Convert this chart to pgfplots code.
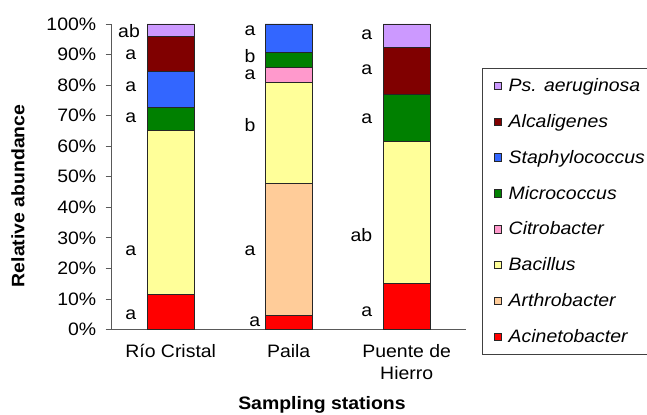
\documentclass[border=0pt]{standalone}
\usepackage{pgfplots}
\pgfplotsset{compat=1.18}
\usepackage{fontspec}
\setmainfont{Liberation Sans}[FakeStretch=1.08]
\newcommand\fs{\fontsize{18bp}{22bp}\selectfont}
\definecolor{cPs}{HTML}{CC99FF}
\definecolor{cAl}{HTML}{800000}
\definecolor{cSt}{HTML}{3366FF}
\definecolor{cMi}{HTML}{008000}
\definecolor{cCi}{HTML}{FF99CC}
\definecolor{cBa}{HTML}{FFFF99}
\definecolor{cAr}{HTML}{FFCC99}
\definecolor{cAc}{HTML}{FF0000}
\begin{document}
\begin{tikzpicture}
\useasboundingbox (-111.7bp,-85.5bp) rectangle (535.3bp,329.5bp);
\begin{axis}[
  scale only axis, width=354bp, height=305.5bp,
  ybar stacked, bar width=0.4,
  xmin=-0.5, xmax=2.5, ymin=0, ymax=100,
  axis lines*=left,
  axis line style={draw=black!65, line width=0.8bp},
  tick align=outside,
  xtick={0,1,2},
  xticklabels={Río Cristal, Paila, {Puente de\\Hierro}},
  xtick style={draw=none},
  major tick length=6bp,
  ytick={0,10,...,100},
  yticklabel={\pgfmathprintnumber{\tick}\%},
  /pgf/number format/assume math mode=true,
  ytick style={draw=black!65, line width=0.8bp},
  tick label style={font=\fs},
  xticklabel style={align=center, yshift=-5bp},
  yticklabel style={xshift=-6bp},
  label style={font=\fs\bfseries},
  xlabel={Sampling stations},
  ylabel={Relative abundance},
  xlabel style={at={(axis description cs:0.594,-0.247)}, anchor=center},
  ylabel style={at={(axis description cs:-0.2647,0.4377)}, anchor=center},
  every axis plot/.append style={draw=black!85, line width=0.7bp},
  area legend,
  legend image code/.code={\draw[#1, line width=0.6bp] (0bp,-3.8bp) rectangle (7.5bp,3.8bp);},
  reverse legend,
  legend cell align=left,
  legend style={at={(axis description cs:1.047,0.855)}, anchor=north west,
    draw=black!75, line width=0.6bp, font=\fs\itshape,
    inner xsep=11bp, inner ysep=8bp, row sep=17.3bp,
    /tikz/every odd column/.append style={column sep=5bp}},
]
\addplot[fill=cAc] coordinates {(0,11.5) (1,4.7) (2,15.2)};
\addplot[fill=cAr] coordinates {(0,0) (1,43.0) (2,0)};
\addplot[fill=cBa] coordinates {(0,53.7) (1,33.3) (2,46.3)};
\addplot[fill=cCi] coordinates {(0,0) (1,4.7) (2,0)};
\addplot[fill=cMi] coordinates {(0,7.5) (1,4.9) (2,15.4)};
\addplot[fill=cSt] coordinates {(0,11.7) (1,9.4) (2,0)};
\addplot[fill=cAl] coordinates {(0,11.4) (1,0) (2,15.5)};
\addplot[fill=cPs] coordinates {(0,4.2) (1,0) (2,7.6)};
\legend{Acinetobacter, Arthrobacter, Bacillus, Citrobacter, Micrococcus, Staphylococcus, Alcaligenes, Ps. aeruginosa}
\draw[black!65, line width=0.8bp] (axis cs:-0.5,0) -- ++(0,-5bp);
\draw[black!65, line width=0.8bp] (axis cs:0.5,0) -- ++(0,-5bp);
\draw[black!65, line width=0.8bp] (axis cs:1.5,0) -- ++(0,-5bp);
\draw[black!65, line width=0.8bp] (axis cs:2.5,0) -- ++(0,-5bp);
\node[anchor=east, inner sep=0pt, font=\fs] at (axis cs:-0.26,97.6) {ab};
\node[anchor=east, inner sep=0pt, font=\fs] at (axis cs:-0.29,89.9) {a};
\node[anchor=east, inner sep=0pt, font=\fs] at (axis cs:-0.29,79.5) {a};
\node[anchor=east, inner sep=0pt, font=\fs] at (axis cs:-0.29,69.3) {a};
\node[anchor=east, inner sep=0pt, font=\fs] at (axis cs:-0.29,25.7) {a};
\node[anchor=east, inner sep=0pt, font=\fs] at (axis cs:-0.29,4.7) {a};
\node[anchor=east, inner sep=0pt, font=\fs] at (axis cs:0.72,97.7) {a};
\node[anchor=east, inner sep=0pt, font=\fs] at (axis cs:0.72,89.6) {b};
\node[anchor=east, inner sep=0pt, font=\fs] at (axis cs:0.72,83.5) {a};
\node[anchor=east, inner sep=0pt, font=\fs] at (axis cs:0.72,66.9) {b};
\node[anchor=east, inner sep=0pt, font=\fs] at (axis cs:0.72,25.7) {a};
\node[anchor=east, inner sep=0pt, font=\fs] at (axis cs:0.76,2.6) {a};
\node[anchor=east, inner sep=0pt, font=\fs] at (axis cs:1.71,96.4) {a};
\node[anchor=east, inner sep=0pt, font=\fs] at (axis cs:1.71,84.9) {a};
\node[anchor=east, inner sep=0pt, font=\fs] at (axis cs:1.71,69.1) {a};
\node[anchor=east, inner sep=0pt, font=\fs] at (axis cs:1.71,30.9) {ab};
\node[anchor=east, inner sep=0pt, font=\fs] at (axis cs:1.71,5.8) {a};
\end{axis}
\end{tikzpicture}
\end{document}
